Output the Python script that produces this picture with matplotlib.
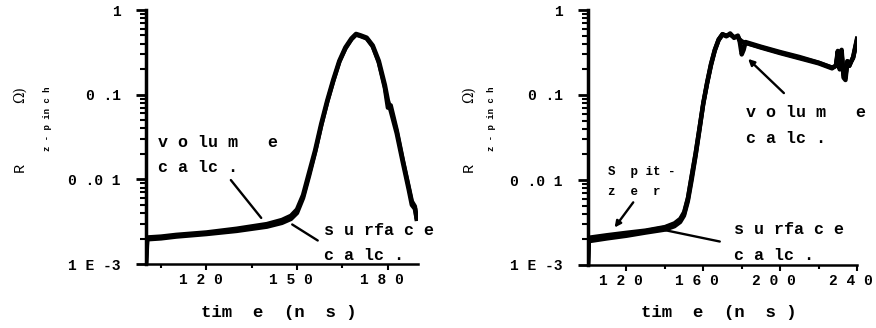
import matplotlib
matplotlib.use("Agg")
import matplotlib.pyplot as plt
import matplotlib.transforms as mtransforms
from matplotlib.ticker import FixedLocator, LogLocator, NullFormatter

# left panel: two calculations of the pinch resistance
t_left = [100, 100.4, 105, 110, 120, 130, 140, 145, 148, 150, 152, 154, 156, 158,
          160, 162, 164, 166, 168, 169.5, 171, 173, 175, 177, 179, 180, 181, 183,
          185, 187, 188, 189, 189.5]
vol_left = [1.0e-3, 2.05e-3, 2.1e-3, 2.2e-3, 2.35e-3, 2.6e-3, 2.95e-3, 3.3e-3, 3.7e-3,
            4.4e-3, 6.5e-3, 0.012, 0.022, 0.045, 0.085, 0.15, 0.25, 0.36, 0.46, 0.52,
            0.5, 0.47, 0.38, 0.25, 0.13, 0.085, 0.065, 0.035, 0.016, 0.0075, 0.005,
            0.0045, 0.0036]
surf_left = [1.0e-3, 1.95e-3, 2.0e-3, 2.1e-3, 2.25e-3, 2.45e-3, 2.75e-3, 3.05e-3, 3.4e-3,
             4.0e-3, 6.0e-3, 0.011, 0.021, 0.043, 0.082, 0.145, 0.245, 0.35, 0.45, 0.51,
             0.49, 0.46, 0.37, 0.24, 0.12, 0.07, 0.075, 0.038, 0.017, 0.008, 0.0055,
             0.0048, 0.0034]

# right panel
t_right = [100, 100.4, 110, 120, 130, 140, 145, 148, 150, 152, 154, 156, 158, 160,
           162, 164, 166, 168, 170, 172, 174, 176, 178, 179, 180, 181, 182, 190, 200,
           210, 220, 227, 229, 230, 231, 232, 233, 234, 235, 236, 238, 240]
vol_right = [1e-3, 2.0e-3, 2.15e-3, 2.3e-3, 2.5e-3, 2.75e-3, 3.0e-3, 3.4e-3, 4.0e-3,
             6e-3, 0.011, 0.02, 0.04, 0.08, 0.14, 0.23, 0.34, 0.45, 0.52, 0.49, 0.53,
             0.47, 0.5, 0.42, 0.3, 0.34, 0.42, 0.37, 0.32, 0.28, 0.24, 0.21, 0.22,
             0.33, 0.2, 0.34, 0.16, 0.15, 0.25, 0.22, 0.28, 0.46]
surf_right = [1e-3, 1.9e-3, 2.05e-3, 2.2e-3, 2.4e-3, 2.6e-3, 2.85e-3, 3.2e-3, 3.8e-3,
              5.6e-3, 0.010, 0.019, 0.038, 0.078, 0.135, 0.22, 0.33, 0.44, 0.51, 0.5,
              0.51, 0.48, 0.48, 0.45, 0.43, 0.42, 0.41, 0.36, 0.31, 0.27, 0.235, 0.205,
              0.22, 0.3, 0.22, 0.3, 0.18, 0.17, 0.24, 0.23, 0.27, 0.44]
spitzer_right = [1e-3, 2.1e-3, 2.25e-3, 2.4e-3, 2.55e-3, 2.8e-3, 3.1e-3, 3.5e-3, 4.2e-3,
                 6.2e-3, 0.0115, 0.021, 0.041, 0.081, 0.14, 0.23, 0.34, 0.45, 0.52, 0.5,
                 0.52, 0.48, 0.49, 0.44, 0.42, 0.41, 0.41, 0.365, 0.315, 0.275, 0.24,
                 0.21, 0.22, 0.32, 0.21, 0.32, 0.17, 0.16, 0.25, 0.22, 0.28, 0.45]

left_xticks = [120, 150, 180]
left_xlabels = ["1 2 0", "1 5 0", "1 8 0"]
right_xticks = [120, 160, 200, 240]
right_xlabels = ["1 2 0", "1 6 0", "2 0 0", "2 4 0"]
yticks = [1e-3, 1e-2, 1e-1, 1]
ylabels = ["1 E -3", "0 .0 1", "0 .1", "1"]
xlabel = "tim  e  (n  s )"

MONO = ["Liberation Mono", "DejaVu Sans Mono"]

fig = plt.figure(figsize=(8.76, 3.28), dpi=100)
ax1 = fig.add_axes([146 / 876, 64 / 328, 272 / 876, 254 / 328])
ax2 = fig.add_axes([588 / 876, 63 / 328, 269 / 876, 255 / 328])


def style_axis(ax, xmin, xmax, ticks, labels, minor):
    ax.set_yscale("log")
    ax.set_ylim(1e-3, 1)
    ax.set_xlim(xmin, xmax)
    for s in ["top", "right"]:
        ax.spines[s].set_visible(False)
    ax.spines["left"].set_linewidth(2.5)
    ax.spines["bottom"].set_linewidth(1.8)
    ax.set_xticks(ticks)
    ax.set_xticklabels([])
    # tick labels drawn by hand, nudged a little left like the scan
    trans = mtransforms.blended_transform_factory(ax.transData, ax.transAxes)
    trans = trans + mtransforms.ScaledTranslation(-6 / 100, -16 / 100, fig.dpi_scale_trans)
    for t, lab in zip(ticks, labels):
        ax.text(t, 0, lab, transform=trans, ha="center", va="center",
                family=MONO, fontsize=10.5, fontweight="bold")
    ax.xaxis.set_minor_locator(FixedLocator(minor))
    ax.set_yticks(yticks)
    ax.set_yticklabels(ylabels, family=MONO, fontsize=10.5, fontweight="bold")
    ax.yaxis.set_minor_locator(LogLocator(base=10, subs=range(2, 10)))
    ax.yaxis.set_minor_formatter(NullFormatter())
    ax.tick_params(axis="y", which="major", length=7, width=2, pad=11)
    ax.tick_params(axis="y", which="minor", length=4, width=1.5)
    ax.tick_params(axis="x", which="major", length=4, width=1.5)
    ax.tick_params(axis="x", which="minor", length=3, width=1.5)


style_axis(ax1, 100, 190, left_xticks, left_xlabels, [105, 135, 165])
style_axis(ax2, 100, 240, right_xticks, right_xlabels, [140, 180, 220])

ax1.plot(t_left, vol_left, color="black", lw=3.4)
ax1.plot(t_left, surf_left, color="black", lw=3.0)

ax2.plot(t_right, vol_right, color="black", lw=3.2)
ax2.plot(t_right, surf_right, color="black", lw=3.0)
ax2.plot(t_right, spitzer_right, color="black", lw=3.0)

# axis titles (figure pixels)
for xc in (279, 719):
    fig.text(xc / 876, 1 - 312 / 328, xlabel, family=MONO, fontsize=12.5,
             fontweight="bold", ha="center", va="center")
for xr, xs in ((20, 48), (469, 491)):
    fig.text(xr / 876, 1 - 167 / 328, "R", family=MONO, fontsize=11, rotation=90,
             ha="center", va="center")
    fig.text(xs / 876, 1 - 119 / 328, "z - p in c h", family=MONO, fontsize=6.5,
             fontweight="bold", rotation=90, ha="center", va="center")
    fig.text(xr / 876, 1 - 95 / 328, "Ω)", family=["DejaVu Serif"], fontsize=10,
             rotation=90, ha="center", va="center")

tk = dict(family=MONO, fontsize=12, fontweight="bold", va="baseline")
sm = dict(family=MONO, fontsize=9, fontweight="bold", va="baseline")
line = dict(arrowstyle="-", color="black", lw=1.7)
head = dict(arrowstyle="-|>", color="black", lw=1.7, mutation_scale=9)

# left annotations
ax1.text(104, 0.0241, "v o lu m   e", **tk)
ax1.text(104, 0.0122, "c a lc .", **tk)
ax1.annotate("", xy=(138.7, 3.3e-3), xytext=(127.5, 0.0104), arrowprops=line)
ax1.text(158.9, 2.2e-3, "s u rfa c e", **tk)
ax1.text(158.9, 1.11e-3, "c a lc .", **tk)
ax1.annotate("", xy=(147.6, 3.05e-3), xytext=(157.6, 1.82e-3), arrowprops=line)

# right annotations
ax2.text(182.3, 0.055, "v o lu m   e", **tk)
ax2.text(182.3, 0.027, "c a lc .", **tk)
ax2.annotate("", xy=(182.3, 0.28), xytext=(203, 0.1), arrowprops=head)
ax2.text(110.4, 0.0114, "S  p it -", **sm)
ax2.text(110.4, 6.7e-3, "z  e  r", **sm)
ax2.annotate("", xy=(113, 2.6e-3), xytext=(124.4, 5.8e-3), arrowprops=head)
ax2.text(176, 2.3e-3, "s u rfa c e", **tk)
ax2.text(176, 1.15e-3, "c a lc .", **tk)
ax2.annotate("", xy=(139, 2.6e-3), xytext=(170, 1.86e-3), arrowprops=line)

fig.savefig("out.png", dpi=100)
